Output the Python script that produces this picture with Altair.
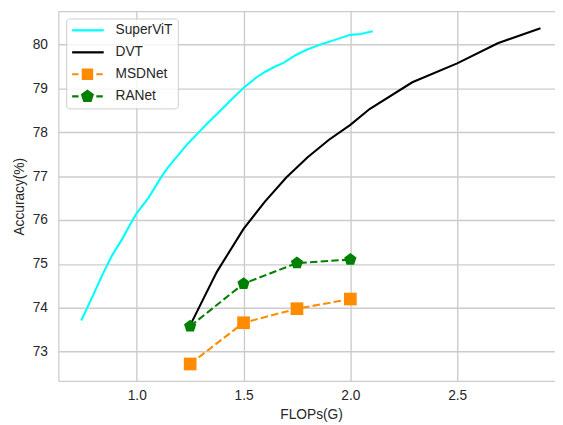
import altair as alt
import pandas as pd

# ---------------- data ----------------
series_names = ["SuperViT", "DVT", "MSDNet", "RANet"]
series_colors = ["#00ffff", "#000000", "#ff8c00", "#008000"]

svt_x = [0.740, 0.792, 0.838, 0.884, 0.931, 0.969, 1.000, 1.054, 1.116, 1.146,
         1.239, 1.300, 1.332, 1.378, 1.448, 1.502, 1.563, 1.602, 1.648, 1.687,
         1.741, 1.795, 1.872, 1.949, 2.000, 2.048, 2.105]
svt_y = [73.71, 74.25, 74.74, 75.19, 75.56, 75.90, 76.16, 76.50, 76.99, 77.20,
         77.74, 78.05, 78.21, 78.43, 78.77, 79.02, 79.26, 79.38, 79.50, 79.58,
         79.75, 79.88, 80.02, 80.14, 80.22, 80.24, 80.30]

dvt_x = [1.25, 1.375, 1.5, 1.6, 1.7, 1.8, 1.9, 2.0, 2.09, 2.29, 2.5, 2.69, 2.89]
dvt_y = [73.60, 74.82, 75.80, 76.42, 76.97, 77.43, 77.83, 78.17, 78.53, 79.14,
         79.57, 80.03, 80.37]

msd_x = [1.25, 1.5, 1.75, 2.0]
msd_y = [72.72, 73.66, 73.98, 74.20]

ran_x = [1.25, 1.5, 1.75, 2.0]
ran_y = [73.58, 74.55, 75.02, 75.10]

x_ticks = [1.0, 1.5, 2.0, 2.5]
y_ticks = [73, 74, 75, 76, 77, 78, 79, 80]


def frame(name, xs, ys):
    return pd.DataFrame({"series": name, "flops": xs, "acc": ys})


svt_df = frame("SuperViT", svt_x, svt_y)
dvt_df = frame("DVT", dvt_x, dvt_y)
msd_df = frame("MSDNet", msd_x, msd_y)
ran_df = frame("RANet", ran_x, ran_y)
all_df = pd.concat([svt_df, dvt_df, msd_df, ran_df], ignore_index=True)

FONT = "Liberation Sans"
GRID = "#cccccc"
TEXT = "#262626"

pentagon = "M0,-1L0.951,-0.309L0.588,0.809L-0.588,0.809L-0.951,-0.309Z"

# legend symbols (line + marker samples), unit = 6px, left edge at -1
leg_solid = "M-1,-0.19H4.33V0.19H-1Z"
dashes = "M-1,-0.17H0.08V0.17H-1Z M3.08,-0.17H4.17V0.17H3.08Z"
leg_msd = dashes + " M0.62,-0.97H2.55V0.97H0.62Z"
leg_ran = dashes + " M1.58,-1.17L2.69,-0.36L2.27,0.95L0.89,0.95L0.47,-0.36Z"

x_enc = alt.X(
    "flops:Q",
    scale=alt.Scale(domain=[0.633, 2.958], nice=False, zero=False),
    axis=alt.Axis(values=x_ticks, format=".1f", title="FLOPs(G)", titleX=256),
)
y_enc = alt.Y(
    "acc:Q",
    scale=alt.Scale(domain=[72.335, 80.75], nice=False, zero=False),
    axis=alt.Axis(values=y_ticks, format="d", title="Accuracy(%)"),
)

# zero-size layer carrying the legend
legend_layer = alt.Chart(all_df).mark_point(filled=True, size=0, opacity=1).encode(
    x=x_enc,
    y=y_enc,
    color=alt.Color(
        "series:N",
        scale=alt.Scale(domain=series_names, range=series_colors),
        legend=alt.Legend(
            title=None,
            orient="none",
            legendX=8,
            legendY=7,
            padding=5,
            fillColor="rgba(255,255,255,0.8)",
            strokeColor="#cccccc",
            cornerRadius=3,
            labelFont=FONT,
            labelFontSize=13.9,
            labelColor=TEXT,
            labelOffset=31,
            rowPadding=7.3,
            symbolSize=144,
            symbolOpacity=1,
            symbolStrokeWidth=0,
        ),
    ),
    shape=alt.Shape(
        "series:N",
        scale=alt.Scale(domain=series_names,
                        range=[leg_solid, leg_solid, leg_msd, leg_ran]),
    ),
)

svt_line = alt.Chart(svt_df).mark_line(color=series_colors[0], strokeWidth=2.1).encode(x=x_enc, y=y_enc)
dvt_line = alt.Chart(dvt_df).mark_line(color=series_colors[1], strokeWidth=2.1).encode(x=x_enc, y=y_enc)
msd_line = alt.Chart(msd_df).mark_line(color=series_colors[2], strokeWidth=2.1,
                                       strokeDash=[7.5, 3.3]).encode(x=x_enc, y=y_enc)
msd_pts = alt.Chart(msd_df).mark_point(shape="square", filled=True, opacity=1,
                                       color=series_colors[2], size=165).encode(x=x_enc, y=y_enc)
ran_line = alt.Chart(ran_df).mark_line(color=series_colors[3], strokeWidth=2.1,
                                       strokeDash=[7.5, 3.3]).encode(x=x_enc, y=y_enc)
ran_pts = alt.Chart(ran_df).mark_point(shape=pentagon, filled=True, opacity=1,
                                       color=series_colors[3], size=170).encode(x=x_enc, y=y_enc)

top_spine = alt.Chart(pd.DataFrame({"k": [0]})).mark_rule(
    color=GRID, strokeWidth=1.25).encode(y=alt.value(0))

chart = alt.layer(
    legend_layer, top_spine, svt_line, dvt_line, msd_line, msd_pts, ran_line, ran_pts
).properties(
    width=503,
    height=374,
    autosize=alt.AutoSizeParams(type="none"),
    padding={"left": 51, "top": 1, "right": 0, "bottom": 40},
).configure(
    font=FONT,
).configure_view(
    strokeWidth=0,
).configure_axis(
    domainColor=GRID,
    domainWidth=1.25,
    gridColor=GRID,
    gridWidth=1.4,
    ticks=False,
    tickSize=0,
    labelFont=FONT,
    labelFontSize=13.9,
    labelColor=TEXT,
    titleFont=FONT,
    titleFontSize=13.9,
    titleColor=TEXT,
    titleFontWeight="normal",
).configure_axisX(
    labelPadding=8,
    titlePadding=5,
).configure_axisY(
    labelPadding=11,
    titlePadding=6,
)

chart.save("out.html", embed_options={"renderer": "svg", "actions": False})
